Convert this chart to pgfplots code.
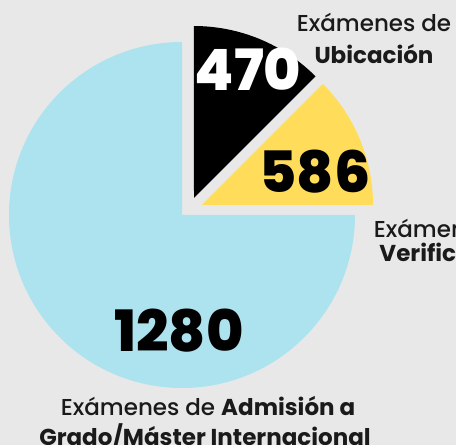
\documentclass[border=0pt]{standalone}
\usepackage{pgfplots}
\pgfplotsset{compat=1.18}
\usepackage{pgfplotstable}
\usepackage{fontspec}
\setmainfont{Poppins}[UprightFont={* Medium},BoldFont={* Bold}]
\newfontfamily\numfont{Poppins}[UprightFont={* ExtraBold}]
\definecolor{bg}{HTML}{E8E8E8}
\definecolor{pblue}{HTML}{ACE3EF}
\definecolor{pyellow}{HTML}{FFDC5A}
\definecolor{ptext}{HTML}{1A1A1A}
% slice: value, centre x, centre y, radius, start angle, end angle
\pgfplotstableread{
name value cx cy r start end
Ubicacion 470 194 247 172 45 90
Verificacion 586 202 240 171 0 45
Admision 1280 182 230 173 90 360
}\slices
\pgfplotstablegetelem{0}{value}\of\slices\let\vA\pgfplotsretval
\pgfplotstablegetelem{1}{value}\of\slices\let\vB\pgfplotsretval
\pgfplotstablegetelem{2}{value}\of\slices\let\vC\pgfplotsretval
\begin{document}
\begin{tikzpicture}
\useasboundingbox (0,0) rectangle (456pt,445pt);
\fill[bg] (0,0) rectangle (456pt,445pt);
\begin{axis}[at={(0,0)},anchor=south west,scale only axis,
  width=456pt,height=445pt,xmin=0,xmax=456,ymin=0,ymax=445,
  hide axis,clip=false]
\fill[pblue] (axis cs:182,230) -- (axis cs:182,403) arc[start angle=90,end angle=360,radius=173pt] -- cycle;
\fill[black] (axis cs:194,247) -- (axis cs:315.6,368.6) arc[start angle=45,end angle=90,radius=172pt] -- cycle;
\fill[pyellow] (axis cs:202,240) -- (axis cs:373,240) arc[start angle=0,end angle=45,radius=171pt] -- cycle;
\node[anchor=base,white,font=\numfont\fontsize{57}{57}\selectfont] at (axis cs:248,354) {\vA};
\node[anchor=base,black,font=\numfont\fontsize{57}{57}\selectfont] at (axis cs:315,252) {\vB};
\node[anchor=base,black,font=\numfont\fontsize{57}{57}\selectfont] at (axis cs:179,93) {\vC};
\begin{scope}[every node/.style={anchor=base,text=ptext,font=\fontsize{23}{27}\selectfont,inner sep=0pt}]
\node at (axis cs:374,413) {Exámenes de};
\node at (axis cs:374,381) {\textbf{Ubicación}};
\node at (axis cs:451,207) {Exámenes de};
\node at (axis cs:451,183) {\textbf{Verificación}};
\node at (axis cs:208,29) {Exámenes de \textbf{Admisión a}};
\node at (axis cs:205,-1) {\textbf{Grado/Máster Internacional}};
\end{scope}
\end{axis}
\end{tikzpicture}
\end{document}
